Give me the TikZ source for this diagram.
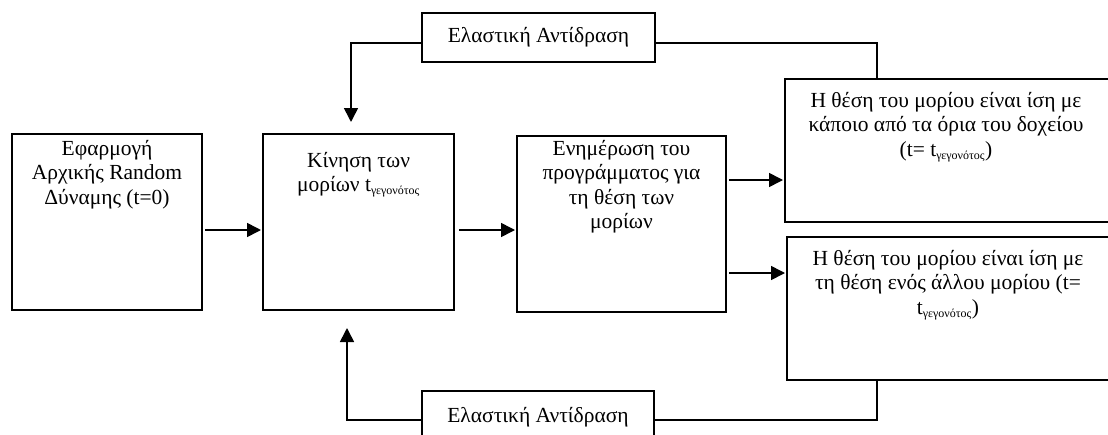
\documentclass[tikz,border=0pt]{standalone}
\usepackage{fontspec}
\setmainfont{Liberation Serif}
\usetikzlibrary{arrows.meta,calc}

% event-time subscript
\newcommand{\tevent}{t\textsubscript{\fontsize{12}{12}\selectfont γεγονότος}}

\tikzset{
  block/.style={draw, line width=1.8pt, inner sep=0pt, outer sep=0pt},
  bigfont/.style={font=\fontsize{21.5}{24.4}\selectfont},
  blocktext/.style={bigfont, anchor=north, align=center, inner sep=0pt},
  wire/.style={line width=1.6pt},
  arr/.style={wire, -{Triangle[length=14pt,width=14pt]}},
}

\begin{document}
\begin{tikzpicture}[x=1pt, y=-1pt]
  \useasboundingbox (0,0) rectangle (1108,434);
  \clip (0,0) rectangle (1108,434);

  % main blocks
  \node[block, minimum width=190pt, minimum height=176pt] (b1) at (107,222) {};
  \node[block, minimum width=191pt, minimum height=176pt] (b2) at (358.5,222) {};
  \node[block, minimum width=209pt, minimum height=176pt] (b3) at (621.5,224) {};
  \node[block, minimum width=335pt, minimum height=143pt] (b4) at (952.5,150.5) {};
  \node[block, minimum width=333pt, minimum height=143pt] (b5) at (953.5,308.5) {};

  % feedback blocks
  \node[block, bigfont, minimum width=233pt, minimum height=49pt]
    (e1) at (538.5,37.5) {Ελαστική Αντίδραση};
  \node[block, minimum width=232pt, minimum height=49pt] (e2) at (538,415.5) {};
  \node[bigfont, inner sep=0pt] (e2t) at (538,417) {Ελαστική Αντίδραση};

  % block texts
  \node[blocktext] (t1) at ($(b1.north)+(0,6)$) {Εφαρμογή\\Αρχικής Random\\Δύναμης (t=0)};
  \node[blocktext] (t2) at ($(b2.north)+(0,18)$) {Κίνηση των\\μορίων \tevent};
  \node[blocktext] (t3) at ($(b3.north)+(0,4)$) {Ενημέρωση του\\προγράμματος για\\τη θέση των\\μορίων};
  \node[blocktext] (t4) at ($(b4.north west)+(161,13)$) {Η θέση του μορίου είναι ίση με\\κάποιο από τα όρια του δοχείου\\(t= \tevent)};
  \node[blocktext] (t5) at ($(b5.north west)+(161,13)$) {Η θέση του μορίου είναι ίση με\\τη θέση ενός άλλου μορίου (t=\\\tevent)};

  % forward arrows
  \draw[arr] ($(b1.east)+(3,8)$) -- ($(b2.west)+(-2,8)$);
  \draw[arr] ($(b2.east)+(5,8)$) -- ($(b3.west)+(-2,6)$);
  \draw[arr] ($(b3.east)+(3,-44)$) -- ($(b4.west)+(-2,29.5)$);
  \draw[arr] ($(b3.east)+(3,49)$) -- ($(b5.west)+(-2,-35.5)$);

  % feedback paths
  \coordinate (k1) at ($(b4.north west)+(92,0)$);
  \coordinate (k2) at ($(b5.south west)+(90,0)$);
  \draw[wire] (k1) |- ($(e1.east)+(0,5.5)$);
  \draw[arr] ($(e1.west)+(0,5.5)$) -| ($(b2.north)+(-7.5,-12)$);
  \draw[wire] (k2) |- ($(e2.east)+(0,4.5)$);
  \draw[arr] ($(e2.west)+(0,4.5)$) -| ($(b2.south)+(-11.5,18)$);
\end{tikzpicture}
\end{document}
